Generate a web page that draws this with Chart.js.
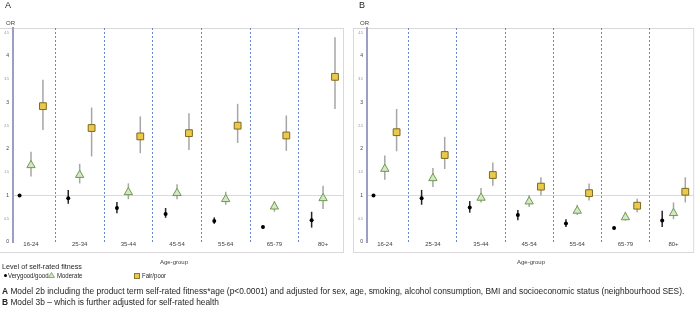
<!DOCTYPE html>
<html>
<head>
<meta charset="utf-8">
<script src="https://cdn.jsdelivr.net/npm/chart.js@4"></script>
<style>
  body { margin: 0; background: #fff; }
  #wrap { position: relative; width: 700px; height: 312px; overflow: hidden; font-family: "Liberation Sans", Arial, sans-serif; color: #262626; }
  canvas { position: absolute; top: 0; }
  .txt { position: absolute; white-space: nowrap; line-height: 1; }
  .leg { font-size: 7px; transform: scaleX(0.86); transform-origin: left center; }
</style>
</head>
<body>
<div id="wrap">
  <canvas id="chartA" width="350" height="312" style="left:0"></canvas>
  <canvas id="chartB" width="350" height="312" style="left:350px"></canvas>

  <div class="txt" style="left:5px;top:1px;font-size:9px;">A</div>
  <div class="txt" style="left:6px;top:20px;font-size:6px;color:#404040;">OR</div>
  <div class="txt" style="left:359px;top:1px;font-size:9px;">B</div>
  <div class="txt" style="left:360px;top:20px;font-size:6px;color:#404040;">OR</div>
  <div class="txt" style="left:160px;top:259px;font-size:6px;color:#404040;">Age-group</div>
  <div class="txt" style="left:517px;top:259px;font-size:6px;color:#404040;">Age-group</div>

  <div class="txt" style="left:2px;top:263px;font-size:7.2px;">Level of self-rated fitness</div>
  <span class="txt" style="left:4px;top:274px;width:3px;height:3px;border-radius:50%;background:#000;"></span>
  <div class="txt leg" style="left:8px;top:272px;">Verygood/good</div>
  <svg class="txt" width="7" height="6" style="left:48px;top:272px;"><polygon points="3.5,0.5 6.5,5.5 0.5,5.5" fill="#d5e8c4" stroke="#70a050" stroke-width="0.8"/></svg>
  <div class="txt leg" style="left:57px;top:272px;">Moderate</div>
  <span class="txt" style="left:134px;top:273px;width:4px;height:4px;background:#ecc94b;border:0.8px solid #8a7a2a;"></span>
  <div class="txt leg" style="left:142px;top:272px;">Fair/poor</div>

  <div class="txt" style="left:2px;top:287px;font-size:8.4px;"><b>A</b> Model 2b including the product term self-rated fitness*age (p&lt;0.0001) and adjusted for sex, age, smoking, alcohol consumption, BMI and socioeconomic status (neighbourhood SES).</div>
  <div class="txt" style="left:2px;top:298px;font-size:8.4px;"><b>B</b> Model 3b &ndash; which is further adjusted for self-rated health</div>
</div>

<script>
// age groups on the x axis
const ageGroups = ['16-24', '25-34', '35-44', '45-54', '55-64', '65-79', '80+'];
const yTicks = [0, 0.5, 1, 1.5, 2, 2.5, 3, 3.5, 4, 4.5];

// Panel A - model 2b (OR and 95% CI)
const goodA   = [1.00, 0.94, 0.73, 0.60, 0.45, 0.32, 0.47];
const goodLoA = [1.00, 0.82, 0.62, 0.52, 0.39, 0.29, 0.31];
const goodHiA = [1.00, 1.12, 0.86, 0.73, 0.53, 0.35, 0.65];
const modA    = [1.65, 1.44, 1.07, 1.05, 0.92, 0.76, 0.94];
const modLoA  = [1.41, 1.26, 0.92, 0.92, 0.80, 0.65, 0.71];
const modHiA  = [1.94, 1.68, 1.26, 1.24, 1.08, 0.88, 1.21];
const poorA   = [2.92, 2.45, 2.27, 2.34, 2.50, 2.29, 3.55];
const poorLoA = [2.41, 1.84, 1.91, 1.98, 2.13, 1.96, 2.86];
const poorHiA = [3.49, 2.89, 2.70, 2.77, 2.97, 2.72, 4.40];

// Panel B - model 3b
const goodB   = [1.00, 0.94, 0.74, 0.58, 0.40, 0.30, 0.46];
const goodLoB = [1.00, 0.80, 0.63, 0.47, 0.32, 0.27, 0.32];
const goodHiB = [1.00, 1.12, 0.88, 0.69, 0.49, 0.33, 0.67];
const modB    = [1.57, 1.37, 0.95, 0.87, 0.67, 0.53, 0.62];
const modLoB  = [1.34, 1.18, 0.85, 0.75, 0.58, 0.46, 0.49];
const modHiB  = [1.86, 1.59, 1.16, 1.01, 0.80, 0.65, 0.85];
const poorB   = [2.36, 1.87, 1.44, 1.19, 1.05, 0.78, 1.08];
const poorLoB = [1.95, 1.57, 1.21, 1.00, 0.89, 0.64, 0.85];
const poorHiB = [2.86, 2.26, 1.71, 1.39, 1.26, 0.93, 1.39];

// horizontal shift of each series inside an age group
const offsets = [-0.235, 0, 0.245];

// draws the confidence interval lines under the markers
const errorBars = {
    id: 'errorBars',
    beforeDatasetsDraw(chart) {
        const ctx = chart.ctx;
        const xs = chart.scales.x, ys = chart.scales.y;
        chart.data.datasets.forEach(ds => {
            ctx.save();
            ctx.strokeStyle = ds.ciColor;
            ctx.lineWidth = 1.5;
            ds.data.forEach((p, i) => {
                const x = xs.getPixelForValue(p.x);
                ctx.beginPath();
                ctx.moveTo(x, ys.getPixelForValue(ds.lo[i]));
                ctx.lineTo(x, ys.getPixelForValue(ds.hi[i]));
                ctx.stroke();
            });
            ctx.restore();
        });
    }
};

// light frame round the plot
const frame = {
    id: 'frame',
    beforeDraw(chart, args, opts) {
        const a = chart.chartArea;
        const ctx = chart.ctx;
        ctx.save();
        ctx.strokeStyle = '#d9d9d9';
        ctx.lineWidth = 1;
        ctx.strokeRect(a.left - opts.left + 0.5, a.top + 0.5, a.right - a.left + opts.left - 1, a.bottom - a.top + 10);
        ctx.restore();
    }
};

function points(vals, s) {
    return vals.map((v, i) => ({ x: i + offsets[s], y: v }));
}

function isWhole(c) {
    return !c.tick || Number.isInteger(c.tick.value);
}

function makePanel(id, axisWidth, padRight, frameLeft, good, goodLo, goodHi, mod, modLo, modHi, poor, poorLo, poorHi) {
    const ctx = document.getElementById(id).getContext('2d');
    new Chart(ctx, {
        type: 'scatter',
        data: {
            datasets: [
                {
                    label: 'Verygood/good',
                    data: points(good, 0), lo: goodLo, hi: goodHi, ciColor: '#262626',
                    pointStyle: 'circle', pointRadius: 2, backgroundColor: '#000', borderColor: '#000', borderWidth: 0
                },
                {
                    label: 'Moderate',
                    data: points(mod, 1), lo: modLo, hi: modHi, ciColor: '#a6a6a6',
                    pointStyle: 'triangle', pointRadius: 4.8, backgroundColor: '#d5e8c4', borderColor: '#6f9a4f', borderWidth: 1
                },
                {
                    label: 'Fair/poor',
                    data: points(poor, 2), lo: poorLo, hi: poorHi, ciColor: '#a6a6a6',
                    pointStyle: 'rect', pointRadius: 4.8, backgroundColor: '#ecc94b', borderColor: '#7a6a20', borderWidth: 1
                }
            ]
        },
        options: {
            responsive: false,
            animation: false,
            devicePixelRatio: 1,
            layout: { padding: { top: 28, right: padRight, left: 0, bottom: 0 } },
            plugins: {
                legend: { display: false },
                tooltip: { enabled: false },
                frame: { left: frameLeft }
            },
            scales: {
                x: {
                    type: 'linear',
                    min: -0.37,
                    max: 6.43,
                    afterBuildTicks: s => {
                        const t = [];
                        for (let v = 0; v <= 6; v += 0.5) t.push({ value: v });
                        s.ticks = t;
                    },
                    afterFit: s => { s.height = 70; },
                    grid: {
                        drawTicks: false,
                        lineWidth: 1,
                        color: c => isWhole(c) ? 'rgba(0,0,0,0)' : '#6a88cc'
                    },
                    border: { display: false, dash: [2, 2] },
                    ticks: {
                        autoSkip: false,
                        maxRotation: 0,
                        padding: -1,
                        color: '#404040',
                        font: { family: 'Liberation Sans', size: 6 },
                        callback: v => Number.isInteger(v) ? ageGroups[v] : ''
                    }
                },
                y: {
                    min: 0,
                    max: 4.6,
                    afterBuildTicks: s => { s.ticks = yTicks.map(v => ({ value: v })); },
                    afterFit: s => { s.width = axisWidth; },
                    grid: {
                        drawTicks: false,
                        color: c => (c.tick && c.tick.value === 1) ? '#cfdaea' : 'rgba(0,0,0,0)'
                    },
                    border: { color: '#9d9dc6', width: 2 },
                    ticks: {
                        padding: 4,
                        color: c => isWhole(c) ? '#404040' : '#8c8c8c',
                        font: c => ({ family: 'Liberation Sans', size: isWhole(c) ? 5 : 3.5 }),
                        callback: v => String(v)
                    }
                }
            }
        },
        plugins: [frame, errorBars]
    });
}

makePanel('chartA', 13, 6, 14, goodA, goodLoA, goodHiA, modA, modLoA, modHiA, poorA, poorLoA, poorHiA);
makePanel('chartB', 17, 2, 14, goodB, goodLoB, goodHiB, modB, modLoB, modHiB, poorB, poorLoB, poorHiB);
</script>
</body>
</html>
